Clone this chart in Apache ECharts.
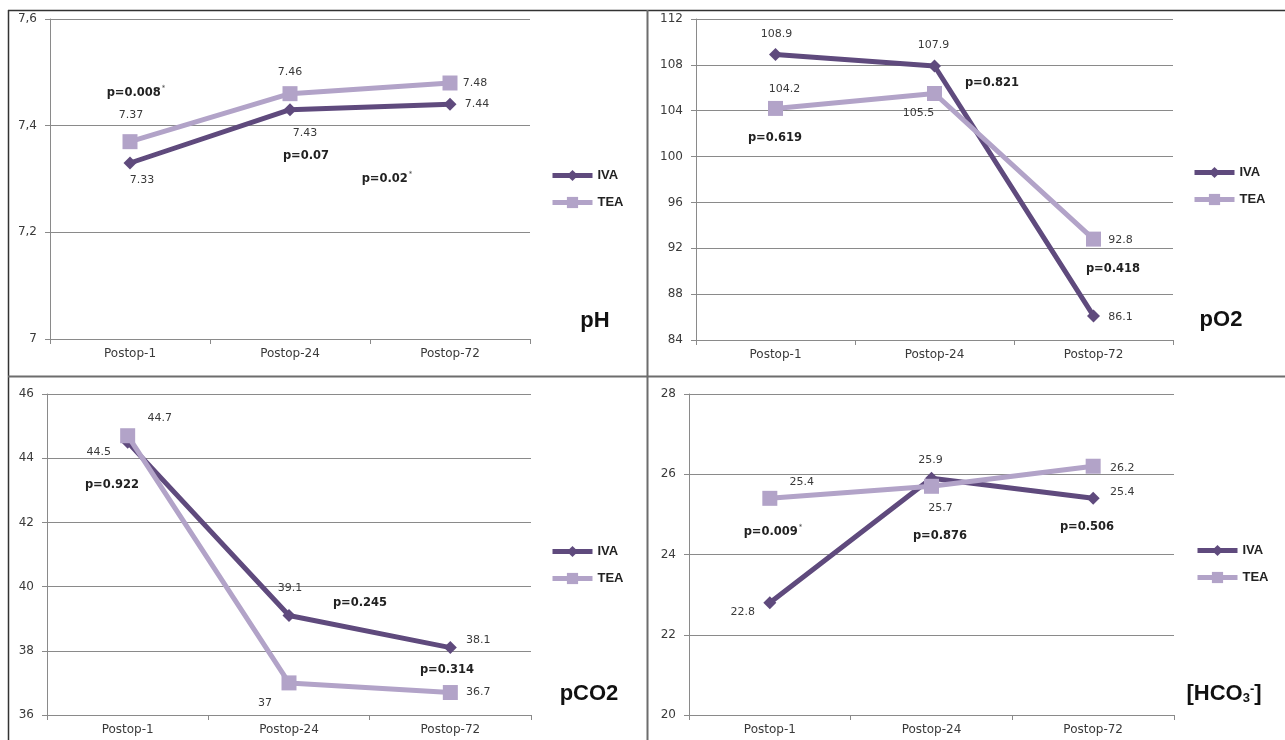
<!DOCTYPE html>
<html>
<head>
<meta charset="utf-8">
<script src="https://cdn.jsdelivr.net/npm/echarts@6/dist/echarts.min.js"></script>
<style>
html,body{margin:0;padding:0;background:#fff;}
#chart{width:1285px;height:740px;}
</style>
</head>
<body>
<div id="chart"></div>
<script>
// ---- data ----
const categories = ['Postop-1', 'Postop-24', 'Postop-72'];
const seriesNames = ['IVA', 'TEA'];

const pH_IVA = [7.33, 7.43, 7.44];
const pH_TEA = [7.37, 7.46, 7.48];
const pO2_IVA = [108.9, 107.9, 86.1];
const pO2_TEA = [104.2, 105.5, 92.8];
const pCO2_IVA = [44.5, 39.1, 38.1];
const pCO2_TEA = [44.7, 37, 36.7];
const hco3_IVA = [22.8, 25.9, 25.4];
const hco3_TEA = [25.4, 25.7, 26.2];

const pH_ticks = [7, 7.2, 7.4, 7.6];
const pO2_ticks = [84, 88, 92, 96, 100, 104, 108, 112];
const pCO2_ticks = [36, 38, 40, 42, 44, 46];
const hco3_ticks = [20, 22, 24, 26, 28];

const pH_p = ['p=0.008', 'p=0.07', 'p=0.02'];
const pO2_p = ['p=0.619', 'p=0.821', 'p=0.418'];
const pCO2_p = ['p=0.922', 'p=0.245', 'p=0.314'];
const hco3_p = ['p=0.009', 'p=0.876', 'p=0.506'];
const pH_sig = [true, false, true];
const pO2_sig = [false, false, false];
const pCO2_sig = [false, false, false];
const hco3_sig = [true, false, false];

const panelTitles = ['pH', 'pO2', 'pCO2', '[HCO{sub|3}{sup|-}]'];

// ---- layout (positions/styles) ----
const IVA_COLOR = '#5f4a7d';
const TEA_COLOR = '#b2a3c8';
const grids = [
  {left: 50, top: 19, width: 480, height: 320},
  {left: 696, top: 19, width: 477, height: 321},
  {left: 47, top: 394, width: 484, height: 321},
  {left: 689, top: 394, width: 485, height: 321}
];
// label offsets [dx, dy] from point centre
const labelOff = [
  {IVA: [[12, 17], [15, 23], [27, 0]], TEA: [[1, -27], [0, -22], [25, 0]]},
  {IVA: [[1, -20], [-1, -21], [27, 1]], TEA: [[9, -19], [-16, 20], [27, 1]]},
  {IVA: [[-29, 10], [1, -27], [28, -7]], TEA: [[32, -18], [-24, 20], [28, 0]]},
  {IVA: [[-27, 9], [-1, -18], [29, -6]], TEA: [[32, -16], [9, 22], [29, 2]]}
];
// p-value text centres (pixels)
const pPos = [
  [[136, 93], [306, 156], [387, 179]],
  [[775, 138], [992, 83], [1113, 269]],
  [[112, 485], [360, 603], [447, 670]],
  [[773, 532], [940, 536], [1087, 527]]
];
const legendPos = [[545, 164], [1187, 161], [545, 540], [1190, 539]];
const titlePos = [[595, 321], [1221, 320], [589, 694], [1224, 694]];

const panels = [
  {ticks: pH_ticks, IVA: pH_IVA, TEA: pH_TEA, p: pH_p, sig: pH_sig, comma: true},
  {ticks: pO2_ticks, IVA: pO2_IVA, TEA: pO2_TEA, p: pO2_p, sig: pO2_sig},
  {ticks: pCO2_ticks, IVA: pCO2_IVA, TEA: pCO2_TEA, p: pCO2_p, sig: pCO2_sig},
  {ticks: hco3_ticks, IVA: hco3_IVA, TEA: hco3_TEA, p: hco3_p, sig: hco3_sig}
];

const AXIS_GRAY = '#8a8a8a';
const TEXT_COL = '#3a3a3a';

const option = {
  backgroundColor: '#fff',
  animation: false,
  grid: [], xAxis: [], yAxis: [], series: [], legend: [], graphic: []
};

panels.forEach((pn, i) => {
  option.grid.push(Object.assign({containLabel: false}, grids[i]));
  option.xAxis.push({
    type: 'category', gridIndex: i, data: categories, boundaryGap: true,
    axisLine: {lineStyle: {color: AXIS_GRAY, width: 1}},
    axisTick: {show: true, length: 5, lineStyle: {color: AXIS_GRAY}},
    axisLabel: {color: TEXT_COL, fontFamily: 'DejaVu Sans', fontSize: 12, margin: 9},
    splitLine: {show: false}
  });
  const step = pn.ticks[1] - pn.ticks[0];
  option.yAxis.push({
    type: 'value', gridIndex: i,
    min: pn.ticks[0], max: pn.ticks[pn.ticks.length - 1], interval: step,
    axisLine: {show: true, lineStyle: {color: AXIS_GRAY, width: 1}},
    axisTick: {show: true, length: 5, lineStyle: {color: AXIS_GRAY}},
    axisLabel: {
      color: TEXT_COL, fontFamily: 'DejaVu Sans', fontSize: 12, margin: 13,
      formatter: v => {
        const s = String(+v.toFixed(2));
        return pn.comma ? s.replace('.', ',') : s;
      }
    },
    splitLine: {show: true, lineStyle: {color: AXIS_GRAY, width: 1}}
  });
  seriesNames.forEach((nm) => {
    const isIVA = nm === 'IVA';
    const color = isIVA ? IVA_COLOR : TEA_COLOR;
    option.series.push({
      type: 'line', name: nm, xAxisIndex: i, yAxisIndex: i,
      symbol: isIVA ? 'diamond' : 'rect',
      symbolSize: isIVA ? 13 : 15,
      lineStyle: {color: color, width: 5},
      itemStyle: {color: color},
      z: isIVA ? 2 : 3,
      data: pn[nm].map((v, k) => ({
        value: v,
        label: {
          show: true, position: 'inside',
          offset: labelOff[i][nm][k],
          align: 'center', verticalAlign: 'middle',
          color: TEXT_COL, fontFamily: 'DejaVu Sans', fontSize: 11,
          formatter: String(v)
        }
      }))
    });
  });
  option.legend.push({
    data: seriesNames, orient: 'vertical',
    left: legendPos[i][0], top: legendPos[i][1],
    itemWidth: 40, itemHeight: 14, itemGap: 14,
    lineStyle: {width: 5},
    textStyle: {color: '#222', fontFamily: 'Liberation Sans', fontWeight: 'bold', fontSize: 13},
    selectedMode: false
  });
  pn.p.forEach((txt, k) => {
    option.graphic.push({
      type: 'text', x: pPos[i][k][0], y: pPos[i][k][1], z: 50,
      style: {
        text: pn.sig[k] ? '{b|' + txt + '}{s|*}' : '{b|' + txt + '}',
        align: 'center', verticalAlign: 'middle',
        rich: {
          b: {fontFamily: 'DejaVu Sans', fontWeight: 'bold', fontSize: 11.5, fill: '#222', color: '#222'},
          s: {fontFamily: 'DejaVu Sans', fontSize: 7, fill: '#444', color: '#444', padding: [0, 0, 9, 1]}
        }
      }
    });
  });
  option.graphic.push({
    type: 'text', x: titlePos[i][0], y: titlePos[i][1], z: 50,
    style: {
      text: panelTitles[i].indexOf('{') >= 0 ? panelTitles[i] : '{t|' + panelTitles[i] + '}',
      align: 'center', verticalAlign: 'middle',
      rich: {
        t: {fontFamily: 'Liberation Sans', fontWeight: 'bold', fontSize: 22, fill: '#111', color: '#111'},
        sub: {fontFamily: 'Liberation Sans', fontWeight: 'bold', fontSize: 13, fill: '#111', color: '#111', padding: [8, 0, 0, 0]},
        sup: {fontFamily: 'Liberation Sans', fontWeight: 'bold', fontSize: 13, fill: '#111', color: '#111', padding: [0, 0, 10, 0]}
      }
    }
  });
});
// HCO3 title uses plain brackets as rich default text style
option.graphic[option.graphic.length - 1].style.font = 'bold 22px "Liberation Sans"';
option.graphic[option.graphic.length - 1].style.fill = '#111';

// frame lines
const frame = [
  {shape: {x1: 8, y1: 10.5, x2: 1285, y2: 10.5}, style: {stroke: '#333', lineWidth: 1.5}},
  {shape: {x1: 8.5, y1: 10, x2: 8.5, y2: 740}, style: {stroke: '#333', lineWidth: 1.5}},
  {shape: {x1: 647.5, y1: 10, x2: 647.5, y2: 740}, style: {stroke: '#6d6d6d', lineWidth: 2}},
  {shape: {x1: 8, y1: 376.5, x2: 1285, y2: 376.5}, style: {stroke: '#6d6d6d', lineWidth: 2}}
];
frame.forEach(f => option.graphic.push(Object.assign({type: 'line', z: 60, silent: true}, f)));

const chart = echarts.init(document.getElementById('chart'), null, {renderer: 'canvas'});
chart.setOption(option);
</script>
</body>
</html>
